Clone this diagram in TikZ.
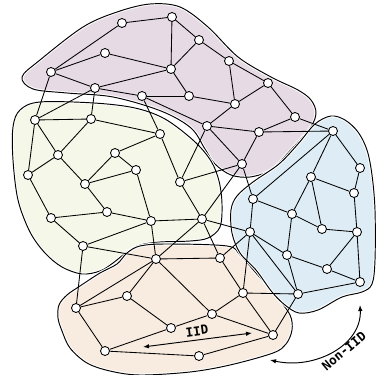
\documentclass[tikz,border=0pt]{standalone}
\usepackage{fontspec}
\newfontfamily\lblfont{DejaVu Sans Mono}
\usetikzlibrary{arrows.meta}
\definecolor{cpurple}{RGB}{230,218,228}
\definecolor{cgreen}{RGB}{245,248,232}
\definecolor{corange}{RGB}{248,235,224}
\definecolor{cblue}{RGB}{222,237,245}
\begin{document}
\begin{tikzpicture}[x=1pt,y=-1pt,
  vtx/.style={circle,draw=black,fill=white,inner sep=0pt,minimum size=9pt,line width=0.85pt},
  edge/.style={line width=0.85pt,black},
  blobfill/.style={fill=#1,draw=white,line width=3pt},
  blobline/.style={draw=black,line width=0.95pt},
  dbl/.style={{Latex[length=6pt,width=4.5pt]}-{Latex[length=6pt,width=4.5pt]},line width=0.95pt},
  lbl/.style={font=\lblfont\bfseries\fontsize{12.5}{13}\selectfont,inner sep=0pt}]
\useasboundingbox (0,0) rectangle (376,375);
% blobs
\def\purpleblob{plot[smooth cycle,tension=0.55] coordinates {(22,77) (40,60) (83,27) (117,12) (150,4) (180,7) (208,27) (238,57) (271,77) (298,90) (311,100) (316,113) (310,128) (288,153) (271,170) (250,177) (231,175) (215,164) (205,149) (191,128) (161,111) (113,97) (67,93) (33,89)}}
\def\greenblob{plot[smooth cycle,tension=0.55] coordinates {(20,110) (40,102) (94,103) (135,108) (165,119) (194,141) (211,161) (219,181) (222,204) (220,227) (208,238) (190,241) (160,242) (140,245) (127,252) (113,263) (100,271) (82,274) (62,267) (45,253) (30,232) (18,200) (13,160) (13,127)}}
\def\orangeblob{plot[smooth cycle,tension=0.55] coordinates {(67,295) (80,286) (100,273) (117,264) (127,253) (140,246) (167,244) (227,246) (240,255) (256,273) (276,296) (290,315) (292,330) (286,344) (273,353) (230,365) (190,372) (140,375) (110,371) (87,363) (70,348) (62,331) (58,318) (59,305)}}
\def\blueblob{plot[smooth cycle,tension=0.55] coordinates {(331,116) (345,120) (358,132) (367,150) (372,175) (375,210) (375,260) (372,284) (362,292) (342,297) (318,310) (299,313) (285,305) (272,292) (256,270) (240,253) (232,233) (231,210) (237,196) (253,182) (279,164) (298,144) (315,124)}}
\path[blobfill=cpurple] \purpleblob;
\path[blobline] \purpleblob;
\path[blobfill=cgreen] \greenblob;
\path[blobline] \greenblob;
\path[blobfill=corange] \orangeblob;
\path[blobline] \orangeblob;
\path[blobfill=cblue] \blueblob;
\path[blobline] \blueblob;
% nodes
\foreach \n/\x/\y in {a1/122/23,a2/172/17,a3/105/53,a4/171/69,a5/51/72,a6/95/88,a7/142/96,a8/199/40,a9/229/61,a10/268/83,a11/189/96,a12/235/104,a13/207/126,a14/259/132,a15/295/117,a16/242/164,
g1/35/120,g2/91/119,g3/160/134,g4/58/155,g5/115/153,g6/136/170,g7/28/175,g8/85/184,g9/180/182,g10/107/212,g11/51/218,g12/151/221,g13/202/219,g14/83/246,
o1/156/259,o2/220/258,o3/127/296,o4/243/293,o5/76/308,o6/171/328,o7/212/314,o8/273/335,o9/105/351,o10/199/356,
b1/333/131,b2/360/168,b3/311/177,b4/354/193,b5/253/199,b6/292/214,b7/322/229,b8/357/232,b9/250/232,b10/287/255,b11/327/269,b12/360/282,b13/298/294}
  {\node[vtx] (\n) at (\x,\y) {};}
% edges
\foreach \u/\v in {a1/a2,a1/a5,a5/a3,a3/a4,a2/a4,a4/a6,a5/a6,a6/a7,a7/a11,a11/a12,a7/a13,a4/a11,a4/a8,a2/a8,a5/g1,a6/g1,a6/g2,a7/g3,a8/a9,a9/a10,a9/a12,a12/a10,a10/a15,a12/a13,a13/a14,a14/a15,a14/b1,a15/b1,a14/a16,a13/a16,a13/g9,a16/g9,a16/b5,a16/g13,b1/b3,b1/b2,b1/b5,
g1/g2,g1/g4,g2/g4,g1/g7,g2/g3,g3/g5,g4/g7,g4/g8,g5/g6,g5/g8,g6/g8,g3/g9,g7/g11,g6/g12,g9/g13,g10/g12,g12/g13,g12/o1,g13/o1,g12/g14,g13/b9,o1/o2,o2/b9,g8/g10,g10/g11,g11/g14,g14/o1,g14/o5,g13/o2,
o1/o3,o1/o5,o1/o7,o2/o4,o3/o5,o3/o6,o6/o7,o6/o9,o9/o10,o10/o8,o7/o8,o4/o7,o4/o8,o5/o9,b9/o4,b13/o4,b13/o8,
b2/b4,b3/b4,b3/b6,b3/b7,b4/b8,b5/b6,b5/b9,b6/b7,b6/b10,b7/b8,b8/b11,b10/b11,b9/b10,b8/b12,b11/b12,b12/b13,b10/b13,b9/b13}
  {\draw[edge] (\u) -- (\v);}
% IID arrow
\coordinate (iidL) at (143,347);
\coordinate (iidR) at (252,333);
\draw[dbl] (iidL) -- (iidR);
\node[lbl,rotate=8] (iid) at (197,331) {IID};
% Non-IID arrow
\coordinate (niL) at (270,360);
\coordinate (niR) at (360,305);
\draw[dbl] (niL) .. controls (315,370) and (362,345) .. (niR);
\node[lbl,rotate=40] (niid) at (344,351) {Non-IID};
\end{tikzpicture}
\end{document}
